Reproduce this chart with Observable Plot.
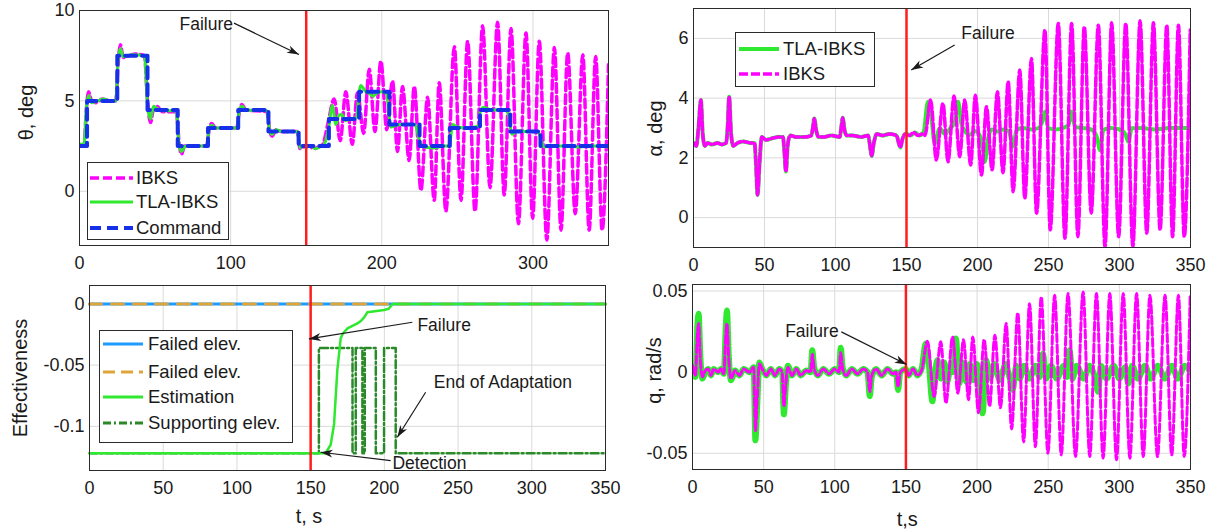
<!DOCTYPE html>
<html><head><meta charset="utf-8">
<script src="https://cdn.jsdelivr.net/npm/d3@7"></script>
<script src="https://cdn.jsdelivr.net/npm/@observablehq/plot@0.6"></script>
<style>
body{margin:0;background:#fff;}
#wrap{position:relative;width:1216px;height:532px;overflow:hidden;background:#fff;font-family:"Liberation Sans",Arial,Helvetica,sans-serif;}
</style></head><body><div id="wrap"></div>
<script>
// ---------------- DATA ----------------
const tFailure = [150];

// theta panel
const thetaXTicks = [0, 100, 200, 300];
const thetaYTicks = [0, 5, 10];
const thetaCommand = [[0,2.5],[5,5],[25,7.5],[45,4.5],[65,2.5],[85,3.5],[105,4.5],[125,3.3],[145,2.5],[165,4],[185,5.5],[205,3.7],[225,2.5],[245,3.5],[265,4.5],[285,3.3],[305,2.5],[350,2.5]];
const thetaIBKS = [[0,2.6],[3,2.5],[4.5,4.5],[6,5.5],[8,5.0],[11,4.9],[15,5.1],[20,5.0],[24,5.0],[25.5,7.0],[27,8.1],[29,7.4],[33,7.5],[37,7.6],[43,7.5],[45,5.0],[47,3.8],[49,4.6],[51,4.7],[55,4.4],[64,4.4],[66,2.6],[67.5,2.05],[69.5,2.5],[84,2.5],[86,3.5],[87.5,3.75],[90,3.5],[104,3.5],[106,4.5],[107.5,4.8],[110,4.5],[124,4.4],[126,3.3],[127.5,3.05],[130,3.4],[134,3.3],[144,3.3],[146,2.35],[148,2.45],[152,2.5],[155,2.35],[158,2.45],[161,2.6],[164.5,3.8],
 [168.5,5.1],[172.5,2.8],[176.2,5.5],[180.5,2.6],[183.9,5.45],[188,3.2],[191.7,6.75],[195.5,3.3],[199.4,7.2],[203.3,3.4],[207.1,6.1],[210.4,2.2],[213.7,5.8],[218.1,1.7],[221.5,5.8],[225.9,0.05],[230.3,5.2],[234.7,-0.5],[238,6.0],[242.4,-1.1],[248,8.0],[252.4,-0.5],[256.8,8.3],[261.7,-1.1],[266.7,9.15],[271.6,0.2],[276.6,9.35],[281,-0.2],[285.5,9.0],[290.4,-1.8],[295.4,8.75],[299.8,-1.5],[304.2,8.3],[309.2,-2.7],[314.2,7.95],[318.6,-2.15],[323,7.65],[328,-1.25],[333,7.55],[337.2,-2.15],[341.5,7.45],[345.8,-2.15],[350,7.0]];
const thetaTLA = [[0,2.6],[3,2.6],[4.5,4.6],[6,5.3],[8,4.9],[12,5.0],[16,5.1],[20,5.0],[24,5.0],[25.5,7.2],[27,7.9],[29,7.45],[35,7.55],[43,7.5],[45,4.8],[47,4.0],[49,4.7],[51,4.6],[55,4.45],[64,4.45],[66,2.5],[67.5,2.2],[70,2.5],[84,2.5],[86,3.5],[87.5,3.65],[90,3.5],[104,3.5],[106,4.55],[107.5,4.7],[110,4.5],[124,4.45],[126,3.3],[127.5,3.15],[130,3.4],[134,3.3],[144,3.3],[146,2.4],[148,2.5],
 [150,2.45],[153,2.5],[156,2.35],[159,2.45],[162,2.6],[165,3.6],[167.3,4.75],[169.6,3.7],[171.5,4.2],[173.5,4.25],[176,3.9],[179,4.0],[183,4.05],[186,5.85],[189.6,5.5],[192,5.4],[194,5.25],[197,5.45],[200,5.5],[203,5.4],[206,3.55],[209.4,3.65],[213,3.7],[217,3.7],[222,3.7],[225,2.8],[228,2.45],[235,2.4],[240,2.5],[244.5,2.5],[247,3.7],[250,3.55],[256.6,3.5],[261,3.55],[264,3.6],[265.4,4.5],[267.6,4.65],[272,4.5],[278,4.5],[283,4.45],[286.3,3.15],[290,3.35],[296,3.3],[303,3.3],[307.5,2.45],[314,2.5],[320,2.5],[330,2.45],[340,2.5],[350,2.45]];
const thetaNotes = [{t:66.2, v:9.25, label:"Failure"}];
const thetaArrows = [{t1:102.2, v1:9.3, t2:145.2, v2:7.57}];

// effectiveness panel
const effXTicks = [0, 50, 100, 150, 200, 250, 300, 350];
const effYTicks = [0, -0.05, -0.1];
const effFailedA = [[0,0],[350,0]];
const effFailedB = [[0,0],[350,0]];
const effEstimation = [[0,-0.122],[160,-0.122],[163.6,-0.115],[165.9,-0.098],[168.1,-0.054],[170.4,-0.028],[172,-0.024],[175,-0.02],[181.7,-0.016],[184,-0.014],[186.3,-0.011],[188.5,-0.0068],[199.8,-0.005],[203,-0.004],[205.5,0],[350,0]];
const effSupporting = [[0,-0.122],[155.6,-0.036],[178.4,-0.122],[180.6,-0.036],[185.1,-0.122],[186.7,-0.036],[194.2,-0.122],[199.8,-0.036],[207.7,-0.122],[350,-0.122]];
const effNotes = [{t:222.4, v:-0.0177, label:"Failure"},{t:233.5, v:-0.064, label:"End of Adaptation"},{t:205.5, v:-0.1305, label:"Detection"}];
const effArrows = [{t1:219, v1:-0.015, t2:148.8, v2:-0.0286},{t1:228, v1:-0.0721, t2:208.8, v2:-0.1089},{t1:204.3, v1:-0.1279, t2:156.8, v2:-0.1211}];

// alpha panel
const alphaXTicks = [0, 50, 100, 150, 200, 250, 300, 350];
const alphaYTicks = [0, 2, 4, 6];
const alphaBefore = [[0,2.5],[2,2.4],[3.5,3.0],[5.2,3.94],[6.5,2.8],[8,2.4],[10,2.5],[13,2.45],[17,2.5],[20,2.45],[23,2.5],[24,3.0],[25.1,4.05],[26.5,2.8],[28,2.4],[31,2.5],[35,2.55],[40,2.5],[43,2.5],[44,1.8],[45.1,0.76],[46.5,1.8],[48,2.7],[51,2.6],[55,2.65],[60,2.7],[63,2.7],[64,2.2],[65.1,1.54],[66.3,2.4],[68,2.75],[72,2.7],[78,2.7],[83,2.75],[84,3.0],[85.1,3.32],[86.5,2.9],[88,2.7],[92,2.7],[97,2.75],[103,2.7],[104,3.0],[105.1,3.34],[106.5,2.9],[108,2.75],[112,2.75],[118,2.7],[123,2.75],[124,2.5],[125.5,2.07],[127,2.5],[129,2.8],[133,2.75],[138,2.8],[143,2.75],[144.5,2.5],[145.7,2.35],[147,2.6],[149,2.8]];
const alphaIBKSAfter = [[152,2.75],[155,2.85],[158,2.75],[161,2.8],[163,2.75],[167,3.94],[171,1.93],[175.7,3.82],[179.2,1.87],[183.5,4.07],[187.5,2.04],[191,3.94],[195.2,1.76],[198.5,4.1],[202.8,1.43],[206.3,3.71],[210.3,1.6],[214,4.21],[218,1.5],[221.6,4.55],[225.1,0.87],[229.8,4.94],[233.3,0.65],[238,5.33],[241.6,0.15],[247.5,6.28],[251.2,-0.41],[256.9,6.5],[261.6,-0.69],[266.3,6.5],[270.7,-0.64],[275.2,6.39],[280.1,0.15],[285.1,6.44],[289.8,-0.97],[294.5,6.52],[299.4,-0.64],[304.4,6.5],[309.4,-0.97],[314.5,6.59],[319.2,-0.52],[323.9,6.52],[328.6,-0.41],[333.3,6.44],[337.4,-0.64],[341.5,6.44],[345.6,-0.64],[349.8,6.28]];
const alphaTLAAfter = [[150,2.8],[153,2.75],[156,2.85],[159,2.75],[162,2.85],[165.1,3.88],[167.5,3.38],[169.8,2.49],[173.4,2.99],[177,2.8],[181,3.0],[184,3.2],[186.3,3.88],[188.6,3.16],[191,2.9],[194.5,2.77],[198,2.9],[201,2.8],[203.5,2.4],[205.1,1.87],[207.5,2.65],[210,2.95],[214.5,2.88],[218,2.95],[222,2.9],[225.1,2.38],[227.5,2.93],[232,3.0],[238,2.95],[243,3.0],[245.5,3.2],[247.5,3.55],[249.8,3.0],[255,2.95],[260,3.0],[264,3.1],[266.3,3.55],[268.6,3.04],[274,3.0],[280,2.95],[284,2.7],[286.3,2.26],[288.6,2.93],[294,3.0],[300,2.95],[304,2.8],[306.3,2.54],[308.6,2.99],[315,3.0],[325,2.95],[335,3.0],[350,3.0]];
const alphaNotes = [{t:188.6, v:6.17, label:"Failure"}];
const alphaArrows = [{t1:183.9, v1:5.78, t2:153.3, v2:4.94}];

// q panel
const qXTicks = [0, 50, 100, 150, 200, 250, 300, 350];
const qYTicks = [-0.05, 0, 0.05];
const qTLA = [[0,0.0],[2,-0.003],[3.5,0.03],[4.3,0.036],[5.5,0.01],[7,-0.004],[9,0.0],[11,0.002],[13,-0.002],[15,0.002],[18,0.0],[20,0.002],[22,-0.001],[23.5,0.03],[24.2,0.038],[25.5,0.01],[27,-0.005],[30,0.001],[33,-0.002],[36,0.002],[40,0.0],[43,0.003],[44.2,-0.042],[45.5,-0.02],[47,0.006],[49,0.002],[52,-0.002],[55,0.002],[58,-0.002],[61,0.002],[63,0.0],[64.2,-0.026],[65.5,-0.01],[67,0.004],[70,-0.002],[73,0.002],[76,-0.002],[80,0.001],[83,0.0],[84.2,0.0135],[85.5,0.003],[88,-0.002],[92,0.002],[96,-0.001],[100,0.002],[103,0.0],[104.2,0.015],[105.5,0.003],[108,-0.002],[112,0.002],[116,-0.001],[120,0.002],[123,0.0],[124.6,-0.0148],[126,-0.003],[129,0.002],[133,-0.002],[137,0.002],[141,-0.001],[143,0.0],[144.5,-0.011],[146,0.0],[150,0.002],
 [152,-0.002],[155,0.002],[158,-0.002],[161,0.002],[163.9,0.0176],[166,0.006],[168.6,-0.018],[170.5,0.0],[172.2,0.0074],[174.5,-0.004],[177,0.006],[179,-0.006],[181.6,0.004],[183,0.0],[185.1,0.0207],[187.5,-0.007],[190,0.006],[192.5,-0.006],[195,0.005],[197.5,-0.005],[200,0.005],[202,-0.008],[203.9,-0.0254],[206.3,0.0075],[209,-0.004],[212,0.005],[216,-0.005],[220,0.005],[223,-0.004],[225.1,-0.011],[227.5,0.004],[230,-0.004],[233,0.004],[237,-0.004],[241,0.004],[244,-0.003],[246.3,0.0115],[248.5,-0.004],[252,0.004],[256,-0.004],[261,0.004],[263,-0.003],[265.1,0.0135],[267,-0.004],[270,0.004],[275,-0.004],[279,0.004],[283,-0.004],[285.1,-0.0121],[287,0.004],[291,-0.004],[296,0.004],[300,-0.004],[304,0.003],[306.3,-0.007],[309,0.004],[313,-0.004],[318,0.004],[322,-0.004],[327,0.004],[332,-0.004],[337,0.004],[341,-0.004],[346,0.004],[350,0.0]];
const qIBKS = [[0,0.004],[2,-0.002],[3.5,0.024],[4.3,0.03],[5.5,0.008],[7,-0.003],[9,0.001],[11,0.002],[13,-0.002],[15,0.002],[18,0.0],[20,0.002],[22,-0.001],[23.5,0.024],[24.2,0.03],[25.5,0.008],[27,-0.004],[30,0.001],[33,-0.002],[36,0.002],[40,0.0],[43,0.003],[44.2,-0.036],[45.5,-0.016],[47,0.005],[49,0.002],[52,-0.002],[55,0.002],[58,-0.002],[61,0.002],[63,0.0],[64.2,-0.021],[65.5,-0.008],[67,0.003],[70,-0.002],[73,0.002],[76,-0.002],[80,0.001],[83,0.0],[84.2,0.011],[85.5,0.002],[88,-0.002],[92,0.002],[96,-0.001],[100,0.002],[103,0.0],[104.2,0.012],[105.5,0.002],[108,-0.002],[112,0.002],[116,-0.001],[120,0.002],[123,0.0],[124.6,-0.012],[126,-0.002],[129,0.002],[133,-0.002],[137,0.002],[141,-0.001],[143,0.0],[144.5,-0.009],[146,0.0],[150,0.002],
 [152,-0.002],[155,0.002],[158,-0.002],[161,0.001],[165.1,0.019],[169.8,-0.015],[174.5,0.0187],[178.1,-0.019],[182.8,0.0217],[186.5,-0.013],[190.5,0.02],[194,-0.017],[197,0.0217],[201,-0.025],[205,0.02],[208.8,-0.021],[212.5,0.0227],[216.5,-0.022],[220.4,0.0299],[224.3,-0.035],[228.6,0.0365],[232.7,-0.043],[236.9,0.0422],[241,-0.046],[245.1,0.0463],[249.8,-0.05],[254.5,0.0474],[259.2,-0.051],[263.9,0.0484],[269.2,-0.052],[274.5,0.0494],[279.2,-0.052],[283.9,0.0484],[288.6,-0.053],[293.3,0.0484],[298,-0.054],[302.7,0.0484],[307.4,-0.053],[312.1,0.0484],[316.8,-0.052],[321.5,0.0474],[326.8,-0.052],[332.1,0.0474],[336.8,-0.051],[341.5,0.0474],[345.6,-0.052],[349.8,0.0474]];
const qNotes = [{t:65.1, v:0.0248, label:"Failure"}];
const qArrows = [{t1:104.6, v1:0.0248, t2:150.5, v2:0.0047}];

// legends
const thetaLegend = ["IBKS", "TLA-IBKS", "Command"];
const effLegend = ["Failed elev.", "Failed elev.", "Estimation", "Supporting elev."];
const alphaLegend = ["TLA-IBKS", "IBKS"];

// ---------------- RENDER ----------------
const FONT = '"Liberation Sans", Arial, Helvetica, sans-serif';
const C = {magenta:"#ff00ff", green:"#2fe82f", blue:"#1530e8", red:"#ff1c1c", sky:"#1e9bff", tan:"#e0a53a", dkgreen:"#2a8a2a", grid:"#dadada", frame:"#2b2b2b", ink:"#1a1a1a"};
const pts = a => a.map(([t, v]) => ({t, v}));
const wrap = document.getElementById("wrap");

const headSymbol = {draw(ctx, size) {
  const s = Math.sqrt(size), L = s * 1.35, W = s * 0.45;
  ctx.moveTo(0, 0); ctx.lineTo(-L, -W); ctx.lineTo(-L * 0.72, 0); ctx.lineTo(-L, W); ctx.closePath();
}};

function annot(notes, arrows, kx, ky) {
  const ang = arrows.map(a => ({...a, angle: Math.atan2(-(a.v2 - a.v1) * ky, (a.t2 - a.t1) * kx) * 180 / Math.PI}));
  return [
    Plot.link(arrows, {x1:"t1", y1:"v1", x2:"t2", y2:"v2", stroke:C.ink, strokeWidth:1.2}),
    Plot.dot(ang, {x:"t2", y:"v2", symbol:headSymbol, r:5, fill:C.ink, stroke:"none", rotate:"angle"}),
    Plot.text(notes, {x:"t", y:"v", text:"label", textAnchor:"start", lineAnchor:"middle", fontSize:17.5, fill:C.ink})
  ];
}

function panel(cfg) {
  const {left, top, width, height, m, xTicks, yDomain, yTicks, yFmt, marks, yLabel, yLabelPos, xLabel, xLabelPos} = cfg;
  const fw = width - m[3] - m[1], fh = height - m[0] - m[2];
  const kx = fw / 350, ky = fh / (yDomain[1] - yDomain[0]);
  const extra = [];
  if (yLabel) extra.push(Plot.text([yLabel], {frameAnchor:"left", text:d => d, rotate:-90, textAnchor:"middle", lineAnchor:"middle", fontSize:20, fill:C.ink,
    dx: yLabelPos[0] - (left + m[3]), dy: yLabelPos[1] - (top + m[0] + fh / 2)}));
  if (xLabel) extra.push(Plot.text([xLabel], {frameAnchor:"bottom", text:d => d, textAnchor:"middle", lineAnchor:"middle", fontSize:20, fill:C.ink,
    dx: xLabelPos[0] - (left + m[3] + fw / 2), dy: xLabelPos[1] - (top + height - m[2])}));
  const svg = Plot.plot({
    width, height, marginTop:m[0], marginRight:m[1], marginBottom:m[2], marginLeft:m[3],
    x: {domain:[0, 350], label:null},
    y: {domain:yDomain, label:null},
    style: {fontFamily:FONT, fontSize:"18px", color:C.ink, background:"transparent", overflow:"visible"},
    marks: [
      Plot.gridX({ticks:xTicks, stroke:C.grid, strokeOpacity:1, strokeWidth:1}),
      Plot.gridY({ticks:yTicks, stroke:C.grid, strokeOpacity:1, strokeWidth:1}),
      Plot.axisX({ticks:xTicks, tickSize:0, tickPadding:11, tickFormat:d => String(d), label:null}),
      Plot.axisY({ticks:yTicks, tickSize:0, tickPadding:5, tickFormat:yFmt, label:null}),
      ...marks(kx, ky),
      Plot.frame({stroke:C.frame, strokeWidth:1}),
      ...extra
    ]
  });
  svg.style.position = "absolute"; svg.style.left = left + "px"; svg.style.top = top + "px";
  svg.style.maxWidth = "none"; svg.style.overflow = "visible";
  wrap.appendChild(svg);
}

const num = d => d === 0 ? "0" : String(d);

// theta
panel({left:0, top:0, width:620, height:275, m:[10, 12, 30, 79], xTicks:thetaXTicks, yDomain:[-3, 10], yTicks:thetaYTicks, yFmt:num,
  yLabel:"θ, deg", yLabelPos:[26, 112],
  marks:(kx, ky) => [
    Plot.line(pts(thetaIBKS), {x:"t", y:"v", stroke:C.magenta, strokeWidth:3.5, strokeDasharray:"9,4", curve:"monotone-x", clip:true}),
    Plot.line(pts(thetaTLA), {x:"t", y:"v", stroke:C.green, strokeWidth:3, curve:"monotone-x", clip:true}),
    Plot.line(pts(thetaCommand), {x:"t", y:"v", stroke:C.blue, strokeWidth:4, strokeDasharray:"11,6", curve:"step-after", clip:true}),
    Plot.ruleX(tFailure, {stroke:C.red, strokeWidth:2.5}),
    ...annot(thetaNotes, thetaArrows, kx, ky)
  ]});

// effectiveness
panel({left:0, top:275, width:620, height:257, m:[10, 15, 62, 89], xTicks:effXTicks, yDomain:[-0.136, 0.015], yTicks:effYTicks, yFmt:num,
  yLabel:"Effectiveness", yLabelPos:[20, 377.5], xLabel:"t, s", xLabelPos:[308.5, 516],
  marks:(kx, ky) => [
    Plot.line(pts(effFailedA), {x:"t", y:"v", stroke:C.sky, strokeWidth:3}),
    Plot.line(pts(effFailedB), {x:"t", y:"v", stroke:C.tan, strokeWidth:3, strokeDasharray:"12,10"}),
    Plot.line(pts(effSupporting), {x:"t", y:"v", stroke:C.dkgreen, strokeWidth:2.5, strokeDasharray:"8,3,2,3", curve:"step-after"}),
    Plot.line(pts(effEstimation), {x:"t", y:"v", stroke:C.green, strokeWidth:2.5}),
    Plot.ruleX(tFailure, {stroke:C.red, strokeWidth:2.5}),
    ...annot(effNotes, effArrows, kx, ky)
  ]});

// alpha
panel({left:620, top:0, width:596, height:275, m:[8, 26, 28, 73], xTicks:alphaXTicks, yDomain:[-1, 7], yTicks:alphaYTicks, yFmt:num,
  yLabel:"α, deg", yLabelPos:[655, 128],
  marks:(kx, ky) => [
    Plot.line(pts(alphaBefore.concat(alphaTLAAfter)), {x:"t", y:"v", stroke:C.green, strokeWidth:4, curve:"monotone-x", clip:true}),
    Plot.line(pts(alphaBefore.concat(alphaIBKSAfter)), {x:"t", y:"v", stroke:C.magenta, strokeWidth:3.5, strokeDasharray:"9,3", curve:"monotone-x", clip:true}),
    Plot.ruleX(tFailure, {stroke:C.red, strokeWidth:2.5}),
    ...annot(alphaNotes, alphaArrows, kx, ky)
  ]});

// q
panel({left:620, top:275, width:596, height:257, m:[9, 26, 63, 72], xTicks:qXTicks, yDomain:[-0.06, 0.054], yTicks:qYTicks, yFmt:num,
  yLabel:"q, rad/s", yLabelPos:[654, 370], xLabel:"t,s", xLabelPos:[906.7, 519],
  marks:(kx, ky) => [
    Plot.line(pts(qTLA), {x:"t", y:"v", stroke:C.green, strokeWidth:6, curve:"monotone-x", clip:true}),
    Plot.line(pts(qIBKS), {x:"t", y:"v", stroke:C.magenta, strokeWidth:3, strokeDasharray:"8,3", curve:"monotone-x", clip:true}),
    Plot.ruleX(tFailure, {stroke:C.red, strokeWidth:2.5}),
    ...annot(qNotes, qArrows, kx, ky)
  ]});

// legends
function legend(left, top, w, h, rows, names, styles, sx1, sx2, tx) {
  const svg = d3.create("svg").attr("width", w).attr("height", h)
    .style("position", "absolute").style("left", left + "px").style("top", top + "px")
    .style("font-family", FONT).style("font-size", "18.5px");
  svg.append("rect").attr("x", 0.5).attr("y", 0.5).attr("width", w - 1).attr("height", h - 1)
    .attr("fill", "#fff").attr("stroke", C.frame).attr("stroke-width", 1);
  names.forEach((n, i) => {
    const s = styles[i];
    svg.append("line").attr("x1", sx1).attr("x2", sx2).attr("y1", rows[i]).attr("y2", rows[i])
      .attr("stroke", s.c).attr("stroke-width", s.w).attr("stroke-dasharray", s.d || null);
    svg.append("text").attr("x", tx).attr("y", rows[i]).attr("dy", "0.35em").attr("fill", C.ink).text(n);
  });
  wrap.appendChild(svg.node());
}
legend(87, 162, 142, 78, [16, 40, 66], thetaLegend,
  [{c:C.magenta, w:3.5, d:"9,4"}, {c:C.green, w:3}, {c:C.blue, w:4, d:"11,6"}], 3, 46, 49);
legend(99, 330, 194, 113, [14, 42, 67, 93], effLegend,
  [{c:C.sky, w:3}, {c:C.tan, w:3, d:"12,6"}, {c:C.green, w:3}, {c:C.dkgreen, w:3, d:"8,3,2,3"}], 4, 44, 49);
legend(735, 32, 140, 55, [17, 42], alphaLegend,
  [{c:C.green, w:4}, {c:C.magenta, w:3.5, d:"9,3"}], 4, 44, 48);
</script></body></html>
